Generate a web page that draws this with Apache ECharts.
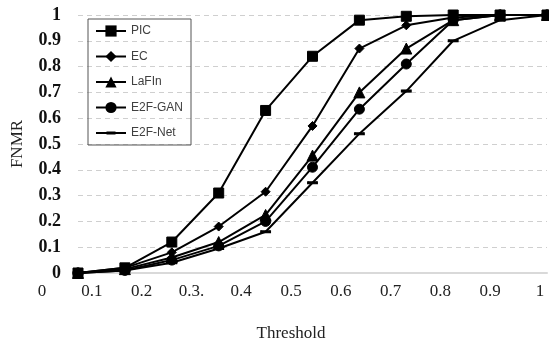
<!DOCTYPE html>
<html>
<head>
<meta charset="utf-8">
<script src="https://cdn.jsdelivr.net/npm/echarts@6/dist/echarts.min.js"></script>
<style>html,body{margin:0;padding:0;background:#fff}#c{width:549px;height:347px}</style>
</head>
<body>
<div id="c"></div>
<script>
const pointCategories = ['p1','p2','p3','p4','p5','p6','p7','p8','p9','p10','p11'];
const xTickLabels = ['0','0.1','0.2','0.3.','0.4','0.5','0.6','0.7','0.8','0.9','1'];
const seriesNames = ['PIC','EC','LaFIn','E2F-GAN','E2F-Net'];
const PIC    = [0, 0.02, 0.12, 0.31, 0.63, 0.84, 0.98, 0.995, 1, 1, 1];
const EC     = [0, 0.02, 0.08, 0.18, 0.315, 0.57, 0.87, 0.96, 0.99, 1, 1];
const LaFIn  = [0, 0.015, 0.06, 0.12, 0.225, 0.455, 0.70, 0.87, 0.98, 1, 1];
const E2FGAN = [0, 0.01, 0.05, 0.105, 0.20, 0.41, 0.635, 0.81, 0.98, 1, 1];
const E2FNet = [0, 0.01, 0.04, 0.095, 0.16, 0.35, 0.54, 0.705, 0.90, 0.98, 1];

const seriesData = [PIC, EC, LaFIn, E2FGAN, E2FNet];
const dashPath = 'path://M0,0 L8,0 L8,2 L0,2 Z';
const legendLinePath = 'path://M0,0 L10.5,0 L10.5,-0.6 L19.5,-0.6 L19.5,0 L30,0 L30,2 L19.5,2 L19.5,2.6 L10.5,2.6 L10.5,2 L0,2 Z';
const symbols = ['rect','diamond','triangle','circle', dashPath];
const symbolSizes = [10, 9, 11, 10, [9, 2.5]];

const chart = echarts.init(document.getElementById('c'), null, {renderer:'canvas'});
const serif = '"Liberation Serif","Times New Roman",serif';
chart.setOption({
  animation: false,
  backgroundColor: '#fff',
  grid: [
    {left: 78, right: 2, top: 15, bottom: 74},
    {left: 42, right: 9, top: 15, bottom: 74}
  ],
  legend: {
    orient: 'vertical',
    left: 88, top: 19,
    padding: [6, 8, 6, 7],
    itemWidth: 30, itemHeight: 14, itemGap: 13.5,
    symbolKeepAspect: true,
    borderColor: '#555', borderWidth: 1,
    textStyle: {fontFamily: '"Liberation Sans",Arial,sans-serif', fontSize: 12, color: '#404040'},
    data: seriesNames.map((n, i) => i === 4 ? {name: n, icon: legendLinePath} : {name: n})
  },
  xAxis: [
    {type: 'category', gridIndex: 0, data: pointCategories, boundaryGap: false,
     axisLine: {show: true, lineStyle: {color: '#d9d9d9', width: 2}},
     axisTick: {show: false}, axisLabel: {show: false}, splitLine: {show: false}},
    {type: 'value', gridIndex: 1, min: 0, max: 1, interval: 0.1,
     axisLine: {show: false}, axisTick: {show: false}, splitLine: {show: false},
     axisLabel: {margin: 10, fontFamily: serif, fontSize: 17, color: '#222',
       formatter: function(v){ return xTickLabels[Math.round(v*10)]; }},
     name: 'Threshold', nameLocation: 'middle', nameGap: 52,
     nameTextStyle: {fontFamily: serif, fontSize: 17, color: '#222'}}
  ],
  yAxis: [
    {type: 'value', gridIndex: 0, min: 0, max: 1, interval: 0.1,
     axisLine: {show: false}, axisTick: {show: false},
     splitLine: {show: true, lineStyle: {color: '#cfcfcf', type: [5, 4], width: 1}},
     axisLabel: {margin: 17, fontFamily: serif, fontSize: 18, fontWeight: 'bold', color: '#111',
       formatter: function(v){ return String(Math.round(v*10)/10); }},
     name: 'FNMR', nameLocation: 'middle', nameGap: 52, nameRotate: 90,
     nameTextStyle: {fontFamily: serif, fontSize: 17, color: '#222'}},
    {type: 'value', gridIndex: 1, min: 0, max: 1, show: false}
  ],
  series: seriesNames.map((n, i) => ({
    name: n, type: 'line', xAxisIndex: 0, yAxisIndex: 0,
    data: seriesData[i],
    symbol: symbols[i], symbolSize: symbolSizes[i], showAllSymbol: true,
    symbolKeepAspect: i === 4 ? false : undefined,
    lineStyle: {color: '#000', width: 2},
    itemStyle: {color: '#000', borderColor: '#000'},
    z: 10 - i
  }))
});
</script>
</body>
</html>
